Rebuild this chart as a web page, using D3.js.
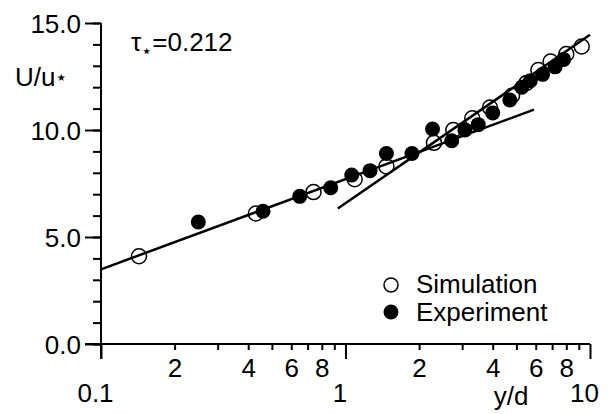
<!DOCTYPE html>
<html>
<head>
<meta charset="utf-8">
<script src="https://cdn.jsdelivr.net/npm/d3@7"></script>
<style>
  body { margin: 0; background: #fff; }
  svg text { font-family: "Liberation Sans", Arial, sans-serif; fill: #000; }
</style>
</head>
<body>
<div id="chart"></div>
<script>
// simulation points (open circles)
const simX = [0.143, 0.43, 0.74, 1.09, 1.47, 2.3, 2.76, 3.3, 3.9, 4.8, 5.5, 6.15, 6.9, 8.0, 9.25];
const simY = [4.1, 6.1, 7.1, 7.7, 8.3, 9.4, 10.0, 10.55, 11.05, 11.6, 12.2, 12.8, 13.2, 13.55, 13.9];

// experiment points (filled circles)
const expX = [0.25, 0.46, 0.65, 0.87, 1.06, 1.26, 1.47, 1.87, 2.27, 2.72, 3.08, 3.49, 4.0, 4.7, 5.26, 5.7, 6.4, 7.2, 7.8];
const expY = [5.7, 6.2, 6.9, 7.3, 7.9, 8.1, 8.9, 8.9, 10.05, 9.5, 10.0, 10.25, 10.8, 11.4, 12.0, 12.3, 12.6, 12.95, 13.3];

// the two log-law lines (end points)
const fitLowX = [0.1, 5.9];
const fitLowY = [3.49, 10.95];
const fitHighX = [0.93, 10];
const fitHighY = [6.33, 14.45];

const majorX = [0.1, 1, 10];
const minorX = [0.2, 0.3, 0.4, 0.5, 0.6, 0.7, 0.8, 0.9, 2, 3, 4, 5, 6, 7, 8, 9];
const majorY = [0, 5, 10, 15];
const minorY = d3.range(0, 16);

const width = 613;
const height = 414;

const svg = d3.select("#chart")
  .append("svg")
  .attr("width", width)
  .attr("height", height);

const x = d3.scaleLog().domain([0.1, 10]).range([101, 590]);
const y = d3.scaleLinear().domain([0, 15]).range([344, 23]);

// y axis: minor ticks then major ticks with labels
svg.append("g")
  .attr("transform", `translate(${x(0.1)},0)`)
  .call(d3.axisLeft(y).tickValues(minorY).tickSize(8).tickFormat(""))
  .call(g => g.select(".domain").remove());

svg.append("g")
  .attr("transform", `translate(${x(0.1)},0)`)
  .call(d3.axisLeft(y).tickValues(majorY).tickSize(16).tickPadding(4).tickFormat(d3.format(".1f")))
  .call(g => g.select(".domain").remove())
  .call(g => g.selectAll("text").attr("font-size", 26).attr("dy", "0.36em"));

// x axis: minor ticks with 2,4,6,8 labels
svg.append("g")
  .attr("transform", `translate(0,${y(0)})`)
  .call(d3.axisBottom(x).tickValues(minorX).tickSize(6).tickPadding(8)
    .tickFormat(d => {
      const m = Math.round(d / Math.pow(10, Math.floor(Math.log10(d) + 1e-9)));
      return m % 2 === 0 ? m : "";
    }))
  .call(g => g.select(".domain").remove())
  .call(g => g.selectAll("text").attr("font-size", 26).attr("dy", "0.72em"));

svg.append("g")
  .attr("transform", `translate(0,${y(0)})`)
  .call(d3.axisBottom(x).tickValues(majorX).tickSize(15).tickPadding(24)
    .tickFormat(d => d < 1 ? "0.1" : d3.format("d")(d)))
  .call(g => g.select(".domain").remove())
  .call(g => g.selectAll("text").attr("font-size", 26).attr("dy", "0.72em").attr("dx", -6));

svg.selectAll(".tick line").attr("stroke", "#000").attr("stroke-width", 2);

// axis lines
svg.append("line")
  .attr("x1", x(0.1)).attr("x2", x(0.1))
  .attr("y1", y(15)).attr("y2", y(0) + 15)
  .attr("stroke", "#000").attr("stroke-width", 2);
svg.append("line")
  .attr("x1", x(0.1) - 16).attr("x2", x(10))
  .attr("y1", y(0)).attr("y2", y(0))
  .attr("stroke", "#000").attr("stroke-width", 2);

// fit lines
const line = d3.line().x(d => x(d[0])).y(d => y(d[1]));
[[fitLowX, fitLowY], [fitHighX, fitHighY]].forEach(([xs, ys]) => {
  svg.append("path")
    .attr("d", line(xs.map((v, i) => [v, ys[i]])))
    .attr("fill", "none")
    .attr("stroke", "#000")
    .attr("stroke-width", 2.5);
});

// simulation: open circles
svg.append("g")
  .selectAll("circle")
  .data(simX.map((v, i) => [v, simY[i]]))
  .join("circle")
  .attr("cx", d => x(d[0]))
  .attr("cy", d => y(d[1]))
  .attr("r", 7.5)
  .attr("fill", "none")
  .attr("stroke", "#000")
  .attr("stroke-width", 1.5);

// experiment: filled circles
svg.append("g")
  .selectAll("circle")
  .data(expX.map((v, i) => [v, expY[i]]))
  .join("circle")
  .attr("cx", d => x(d[0]))
  .attr("cy", d => y(d[1]))
  .attr("r", 7.5)
  .attr("fill", "#000");

// labels
const yl = svg.append("text")
  .attr("x", 15).attr("y", 86)
  .attr("font-size", 26);
yl.append("tspan").text("U/u");
yl.append("tspan").attr("font-size", 20).attr("dy", -2).text("⋆");

const tau = svg.append("text")
  .attr("x", 131).attr("y", 51)
  .attr("font-size", 26);
tau.append("tspan").text("τ");
tau.append("tspan").attr("font-size", 18).attr("dy", 6).text("⋆");
tau.append("tspan").attr("dy", -6).text("=0.212");

svg.append("text")
  .attr("x", 511).attr("y", 405)
  .attr("text-anchor", "middle")
  .attr("font-size", 26)
  .text("y/d");

// legend
const legend = svg.append("g");
legend.append("circle")
  .attr("cx", 391).attr("cy", 285).attr("r", 7)
  .attr("fill", "none").attr("stroke", "#000").attr("stroke-width", 1.5);
legend.append("text")
  .attr("x", 416).attr("y", 293).attr("font-size", 26)
  .text("Simulation");
legend.append("circle")
  .attr("cx", 391).attr("cy", 312).attr("r", 7.5)
  .attr("fill", "#000");
legend.append("text")
  .attr("x", 416).attr("y", 321).attr("font-size", 26)
  .text("Experiment");
</script>
</body>
</html>
